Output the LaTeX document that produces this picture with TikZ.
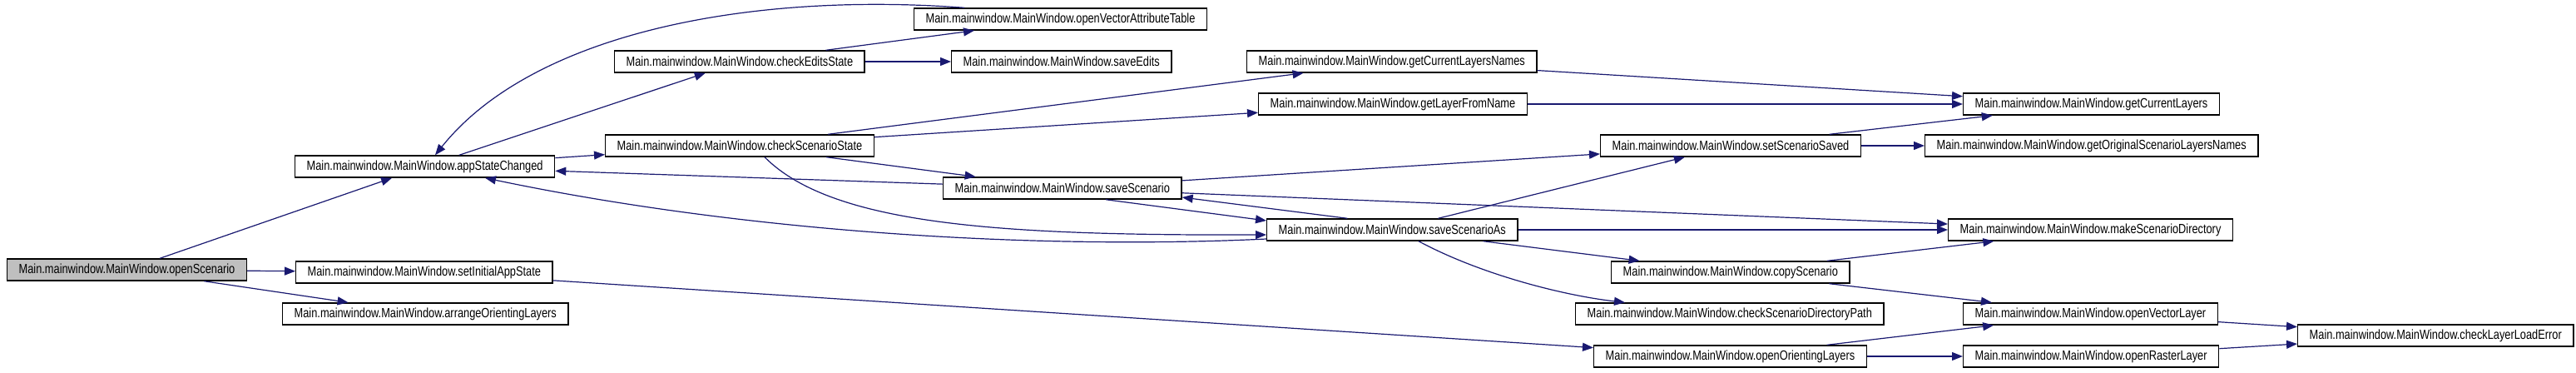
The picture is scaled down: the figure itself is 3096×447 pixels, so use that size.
\documentclass[tikz,border=0pt]{standalone}
\usepackage{fontspec}
\setmainfont[FakeStretch=0.8]{Liberation Sans}
\usetikzlibrary{arrows.meta, positioning, calc}
\definecolor{edgeNavy}{HTML}{191970}
\definecolor{rootGray}{HTML}{BFBFBF}
\tikzset{
  callArrow/.style={-{Triangle[length=13pt,width=10pt]}, edgeNavy, line width=1.2pt},
  fnBox/.style={rectangle, draw=black, fill=white, line width=1.4pt, anchor=west,
                font=\fontsize{16}{18}\selectfont, inner xsep=14pt, inner ysep=0pt,
                minimum height=26pt},
  fnRoot/.style={fnBox, fill=rootGray},
}

\begin{document}
\begin{tikzpicture}[x=1pt, y=-1pt]
    \useasboundingbox (0,0) rectangle (3096,447);
    \node[fnRoot] (os)    at (8,324)    {Main.mainwindow.MainWindow.openScenario};
    \node[fnBox]  (asc)   at (354,200)  {Main.mainwindow.MainWindow.appStateChanged};
    \node[fnBox]  (sias)  at (355,327)  {Main.mainwindow.MainWindow.setInitialAppState};
    \node[fnBox]  (aol)   at (339,377)  {Main.mainwindow.MainWindow.arrangeOrientingLayers};
    \node[fnBox]  (ovat)  at (1098,23)  {Main.mainwindow.MainWindow.openVectorAttributeTable};
    \node[fnBox]  (ces)   at (738,74)   {Main.mainwindow.MainWindow.checkEditsState};
    \node[fnBox]  (se)    at (1143,74)  {Main.mainwindow.MainWindow.saveEdits};
    \node[fnBox]  (css)   at (727,175)  {Main.mainwindow.MainWindow.checkScenarioState};
    \node[fnBox]  (ss)    at (1133,226) {Main.mainwindow.MainWindow.saveScenario};
    \node[fnBox]  (gcln)  at (1498,74)  {Main.mainwindow.MainWindow.getCurrentLayersNames};
    \node[fnBox]  (glfn)  at (1512,125) {Main.mainwindow.MainWindow.getLayerFromName};
    \node[fnBox]  (sss)   at (1923,175) {Main.mainwindow.MainWindow.setScenarioSaved};
    \node[fnBox]  (ssa)   at (1522,276) {Main.mainwindow.MainWindow.saveScenarioAs};
    \node[fnBox]  (cs)    at (1936,327) {Main.mainwindow.MainWindow.copyScenario};
    \node[fnBox]  (csdp)  at (1893,377) {Main.mainwindow.MainWindow.checkScenarioDirectoryPath};
    \node[fnBox]  (ool)   at (1915,428) {Main.mainwindow.MainWindow.openOrientingLayers};
    \node[fnBox]  (gcl)   at (2359,125) {Main.mainwindow.MainWindow.getCurrentLayers};
    \node[fnBox]  (gosln) at (2313,175) {Main.mainwindow.MainWindow.getOriginalScenarioLayersNames};
    \node[fnBox]  (msd)   at (2341,276) {Main.mainwindow.MainWindow.makeScenarioDirectory};
    \node[fnBox]  (ovl)   at (2359,377) {Main.mainwindow.MainWindow.openVectorLayer};
    \node[fnBox]  (orl)   at (2359,428) {Main.mainwindow.MainWindow.openRasterLayer};
    \node[fnBox]  (clle)  at (2761,403) {Main.mainwindow.MainWindow.checkLayerLoadError};
    \draw[callArrow] (os) -- (asc); \draw[callArrow] (os) -- (sias);
    \draw[callArrow] (os) -- (aol);
    \draw[callArrow] ([xshift=61pt]ovat.north west) .. controls (900,-10) and (640,40) .. ([xshift=169pt]asc.north west);
    \draw[callArrow] (asc) -- (ces); \draw[callArrow] (asc) -- (css);
    \draw[callArrow] (ss) -- (asc);
    \draw[callArrow] ([yshift=-11pt]ssa.west) .. controls (1250,300) and (900,280) .. ([xshift=229pt]asc.south west);
    \draw[callArrow] (ces) -- (ovat); \draw[callArrow] (ces) -- (se);
    \draw[callArrow] (css) -- (gcln); \draw[callArrow] (css) -- (glfn);
    \draw[callArrow] (css) -- (ss);
    \draw[callArrow] ([xshift=192pt]css.south west) .. controls (1000,270) and (1200,283) .. ([yshift=-6pt]ssa.west);
    \draw[callArrow] (ss) -- (sss); \draw[callArrow] (ss) -- (msd);
    \draw[callArrow] ([xshift=52pt]ss.south) -- ([yshift=11pt]ssa.west);
    \draw[callArrow] ([xshift=-54pt]ssa.north) -- ([yshift=-11pt]ss.east);
    \draw[callArrow] (ssa) -- (sss); \draw[callArrow] (ssa) -- (msd);
    \draw[callArrow] (ssa) -- (cs);
    \draw[callArrow] ([xshift=183pt]ssa.south west) .. controls (1780,330) and (1880,355) .. ([xshift=60pt]csdp.north west);
    \draw[callArrow] (gcln) -- (gcl); \draw[callArrow] (glfn) -- (gcl);
    \draw[callArrow] (sss) -- (gcl); \draw[callArrow] (sss) -- (gosln);
    \draw[callArrow] (cs) -- (msd); \draw[callArrow] (cs) -- (ovl);
    \draw[callArrow] (sias) -- (ool);
    \draw[callArrow] (ool) -- (ovl); \draw[callArrow] (ool) -- (orl);
    \draw[callArrow] (ovl) -- (clle); \draw[callArrow] (orl) -- (clle);
  \end{tikzpicture}
\end{document}
